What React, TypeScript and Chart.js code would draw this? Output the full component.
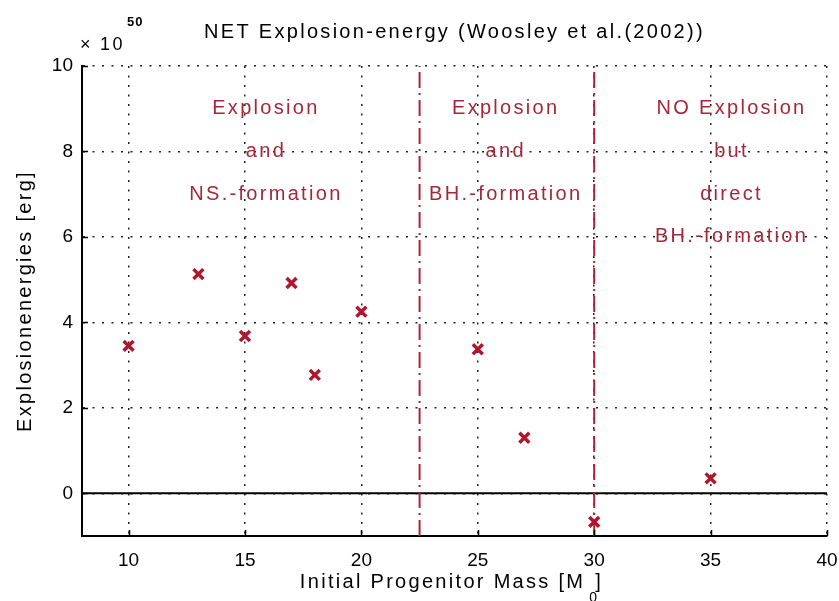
import React, { useEffect, useRef } from 'react';
import { Chart, registerables } from 'chart.js';

Chart.register(...registerables);

// ---- data ----
const masses = [10, 13, 15, 17, 18, 20, 25, 27, 30, 35];
const energies = [3.45, 5.13, 3.68, 4.92, 2.77, 4.25, 3.37, 1.3, -0.67, 0.35];
const boundaryMasses = [22.5, 30];
const xRange = [8, 40];
const yRange = [-1, 10];
const xTicks = [10, 15, 20, 25, 30, 35, 40];
const yTicks = [0, 2, 4, 6, 8, 10];
const regionX = [15.9, 26.2, 35.9];
const regionLines = [
  ['Explosion', 'and', 'NS.-formation'],
  ['Explosion', 'and', 'BH.-formation'],
  ['NO Explosion', 'but', 'direct', 'BH.-formation'],
];
const regionLineY = [9, 8, 7, 6];
const titleText = 'NET Explosion-energy (Woosley et al.(2002))';
const xLabelMain = 'Initial Progenitor Mass [M';
const xLabelSub = '0';
const xLabelEnd = ']';
const yLabel = 'Explosionenergies [erg]';
const multiplierText = '\u00d7 10';
const exponentText = '50';

// ---- style ----
const FONT = '"Liberation Sans", Arial, Helvetica, sans-serif';
const SPACING = '2.3px';
const MARK_RED = '#b0162e';
const LINE_RED = '#b02236';
const TEXT_RED = '#a3283a';

const decor = {
  id: 'matlabDecor',
  beforeDraw(chart: any) {
    chart.ctx.letterSpacing = SPACING;
  },
  beforeDatasetsDraw(chart: any) {
    chart.ctx.letterSpacing = '0px';
  },
  afterDraw(chart: any) {
    const { ctx, chartArea: ca } = chart;
    const x = chart.scales.x;
    const y = chart.scales.y;
    ctx.save();
    ctx.setLineDash([]);
    ctx.strokeStyle = '#000';
    ctx.lineWidth = 1.5;
    // inward tick marks
    x.ticks.forEach((t: any) => {
      const px = Math.round(x.getPixelForValue(t.value)) + 0.5;
      ctx.beginPath();
      ctx.moveTo(px, ca.bottom);
      ctx.lineTo(px, ca.bottom - 6);
      ctx.stroke();
    });
    y.ticks.forEach((t: any) => {
      const py = Math.round(y.getPixelForValue(t.value)) + 0.5;
      ctx.beginPath();
      ctx.moveTo(ca.left, py);
      ctx.lineTo(ca.left + 6, py);
      ctx.stroke();
    });

    ctx.letterSpacing = SPACING;
    // region annotations
    ctx.font = `20px ${FONT}`;
    ctx.fillStyle = TEXT_RED;
    ctx.textAlign = 'center';
    ctx.textBaseline = 'middle';
    regionLines.forEach((lines, g) => {
      lines.forEach((s, i) => {
        ctx.fillText(s, x.getPixelForValue(regionX[g]), y.getPixelForValue(regionLineY[i]));
      });
    });

    // exponent multiplier
    ctx.fillStyle = '#000';
    ctx.textAlign = 'left';
    ctx.font = `18px ${FONT}`;
    ctx.fillText(multiplierText, ca.left - 2, 45);
    ctx.font = `bold 13px ${FONT}`;
    ctx.letterSpacing = '1px';
    ctx.fillText(exponentText, ca.left + 45, 22);

    // x axis label
    ctx.letterSpacing = SPACING;
    ctx.font = `20px ${FONT}`;
    const mainW = ctx.measureText(xLabelMain).width;
    const endW = ctx.measureText(xLabelEnd).width;
    const totalW = mainW + 10 + endW;
    const cx = (ca.left + ca.right) / 2 - 3;
    const left = cx - totalW / 2;
    ctx.fillText(xLabelMain, left, 582);
    ctx.fillText(xLabelEnd, left + mainW + 10, 582);
    ctx.font = `14px ${FONT}`;
    ctx.letterSpacing = '0px';
    ctx.fillText(xLabelSub, left + mainW + 4, 598);
    ctx.restore();
  },
};

export default function App() {
  const ref = useRef<HTMLCanvasElement | null>(null);

  useEffect(() => {
    document.body.style.margin = '0';
    const canvas = ref.current;
    if (!canvas) return;
    const chart = new Chart(canvas, {
      type: 'scatter',
      data: {
        datasets: [
          {
            data: masses.map((m, i) => ({ x: m, y: energies[i] })),
            pointStyle: 'crossRot',
            pointRadius: 7,
            pointBorderWidth: 3.5,
            borderColor: MARK_RED,
            backgroundColor: MARK_RED,
            showLine: false,
          },
          ...boundaryMasses.map((b) => ({
            data: [
              { x: b, y: yRange[0] },
              { x: b, y: yRange[1] },
            ],
            showLine: true,
            borderColor: LINE_RED,
            borderWidth: 2,
            borderDash: [16, 5, 2, 5],
            pointRadius: 0,
          })),
          {
            data: [
              { x: xRange[0], y: 0 },
              { x: xRange[1], y: 0 },
            ],
            showLine: true,
            borderColor: '#000',
            borderWidth: 2,
            pointRadius: 0,
          },
        ],
      } as any,
      options: {
        responsive: false,
        animation: false,
        layout: { padding: { top: 0, right: 12, bottom: 0, left: 0 } },
        plugins: {
          legend: { display: false },
          tooltip: { enabled: false },
          title: {
            display: true,
            text: titleText,
            fullSize: false,
            color: '#000',
            font: { family: FONT, size: 20, weight: 'normal', lineHeight: 1.2 },
            padding: { top: 20, bottom: 22 },
          },
        },
        scales: {
          x: {
            type: 'linear',
            min: xRange[0],
            max: xRange[1],
            afterBuildTicks: (s: any) => {
              s.ticks = xTicks.map((v) => ({ value: v }));
            },
            afterFit: (s: any) => {
              s.height = 65;
              s.paddingLeft = 0;
              s.paddingRight = 0;
            },
            grid: { color: '#222', lineWidth: 1.5, drawTicks: false },
            border: { display: true, color: '#000', width: 2, dash: [2, 7.5] },
            ticks: {
              color: '#000',
              padding: 13,
              z: 1,
              font: { family: FONT, size: 19 },
            },
          },
          y: {
            type: 'linear',
            min: yRange[0],
            max: yRange[1],
            afterBuildTicks: (s: any) => {
              s.ticks = yTicks.map((v) => ({ value: v }));
            },
            afterFit: (s: any) => {
              s.width = 82;
              s.paddingTop = 0;
              s.paddingBottom = 0;
            },
            grid: { color: '#222', lineWidth: 1.5, drawTicks: false },
            border: { display: true, color: '#000', width: 2, dash: [2, 7.5] },
            ticks: {
              color: '#000',
              padding: 9,
              z: 1,
              font: { family: FONT, size: 19 },
            },
            title: {
              display: true,
              text: yLabel,
              color: '#000',
              font: { family: FONT, size: 20, lineHeight: 1.2 },
              padding: { top: 13, bottom: 0 },
            },
          },
        },
      } as any,
      plugins: [decor],
    });
    return () => chart.destroy();
  }, []);

  return (
    <div style={{ position: 'absolute', left: 0, top: 0, width: 839, height: 601, background: '#fff' }}>
      <canvas ref={ref} width={839} height={601} />
    </div>
  );
}
